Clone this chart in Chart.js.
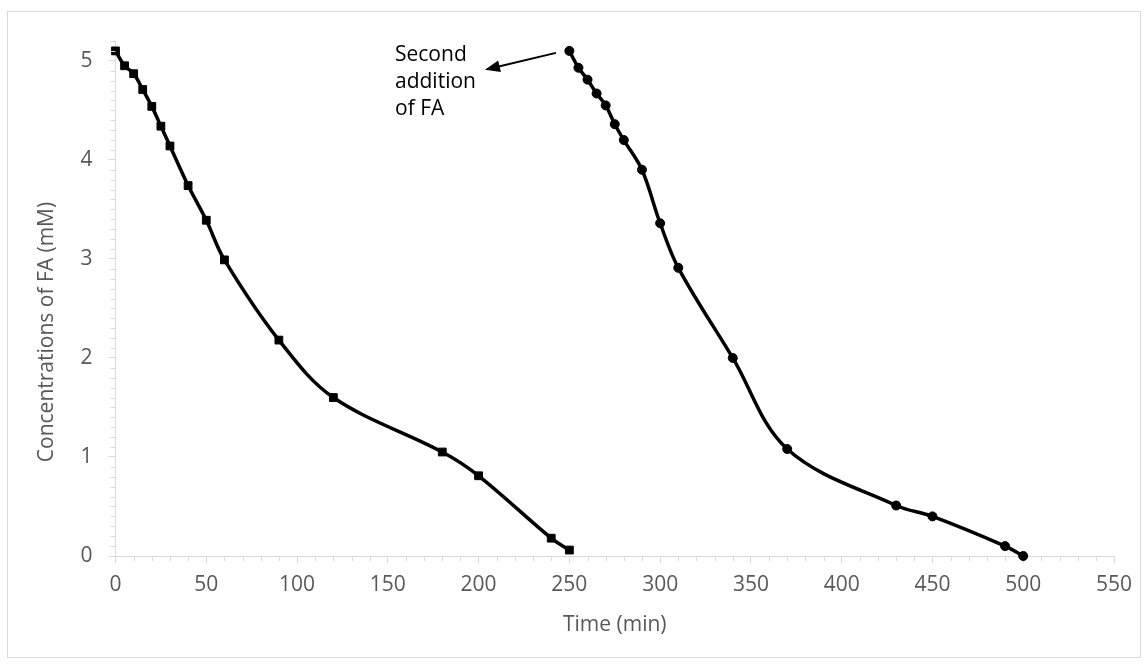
<!DOCTYPE html>
<html>
<head>
<meta charset="utf-8">
<script src="https://cdn.jsdelivr.net/npm/chart.js@4/dist/chart.umd.min.js"></script>
<style>
  html, body { margin: 0; padding: 0; background: #fff; }
  #chart { display: block; }
</style>
</head>
<body>
<canvas id="chart" width="1148" height="669"></canvas>
<script>
  // first addition (squares)
  const time1 = [0, 5, 10, 15, 20, 25, 30, 40, 50, 60, 90, 120, 180, 200, 240, 250];
  const conc1 = [5.10, 4.95, 4.87, 4.71, 4.54, 4.34, 4.14, 3.74, 3.39, 2.99, 2.18, 1.60, 1.05, 0.81, 0.18, 0.06];

  // second addition (circles)
  const time2 = [250, 255, 260, 265, 270, 275, 280, 290, 300, 310, 340, 370, 430, 450, 490, 500];
  const conc2 = [5.10, 4.93, 4.81, 4.67, 4.55, 4.36, 4.20, 3.90, 3.36, 2.91, 2.00, 1.08, 0.51, 0.40, 0.10, 0.00];

  const xTicks = [0, 50, 100, 150, 200, 250, 300, 350, 400, 450, 500, 550];
  const yTicks = [0, 1, 2, 3, 4, 5];

  const xTitle = 'Time (min)';
  const yTitle = 'Concentrations of FA (mM)';
  const noteLines = ['Second', 'addition', 'of FA'];

  const FONT = '"Open Sans", "Noto Sans", sans-serif';
  const GREY = '#595959';
  const AXIS = '#d9d9d9';

  function toPoints(xs, ys) {
    return xs.map((x, i) => ({ x: x, y: ys[i] }));
  }

  // frame, minor ticks, y title and the arrow note
  const extras = {
    id: 'extras',
    beforeDraw(chart) {
      const ctx = chart.ctx;
      ctx.save();
      ctx.fillStyle = '#fff';
      ctx.fillRect(0, 0, chart.width, chart.height);
      ctx.strokeStyle = AXIS;
      ctx.lineWidth = 1;
      ctx.strokeRect(7.5, 11.5, 1133, 646);
      ctx.restore();
    },
    afterDraw(chart) {
      const ctx = chart.ctx;
      const xs = chart.scales.x;
      const ys = chart.scales.y;
      ctx.save();

      // minor ticks
      ctx.strokeStyle = AXIS;
      ctx.lineWidth = 1;
      ctx.beginPath();
      for (let v = 0; v <= 550; v += 10) {
        if (v % 50 === 0) continue;
        const px = Math.round(xs.getPixelForValue(v)) + 0.5;
        ctx.moveTo(px, ys.bottom);
        ctx.lineTo(px, ys.bottom + 5);
      }
      for (let i = 0; i <= 52; i++) {
        if (i % 10 === 0) continue;
        const py = Math.round(ys.getPixelForValue(i / 10)) + 0.5;
        ctx.moveTo(xs.left - 5, py);
        ctx.lineTo(xs.left, py);
      }
      ctx.stroke();

      // y axis title
      ctx.fillStyle = GREY;
      ctx.font = '21px ' + FONT;
      ctx.textAlign = 'center';
      ctx.textBaseline = 'middle';
      ctx.translate(47, 332);
      ctx.rotate(-Math.PI / 2);
      ctx.fillText(yTitle, 0, 0);
      ctx.setTransform(1, 0, 0, 1, 0, 0);

      // arrow pointing at the start of the second run
      const x0 = xs.getPixelForValue(242.6), y0 = ys.getPixelForValue(5.08);
      const x1 = xs.getPixelForValue(203.5), y1 = ys.getPixelForValue(4.91);
      const ang = Math.atan2(y1 - y0, x1 - x0);
      const headLen = 15, headW = 6;
      ctx.strokeStyle = '#000';
      ctx.fillStyle = '#000';
      ctx.lineWidth = 2;
      ctx.beginPath();
      ctx.moveTo(x0, y0);
      ctx.lineTo(x1 - headLen * 0.8 * Math.cos(ang), y1 - headLen * 0.8 * Math.sin(ang));
      ctx.stroke();
      ctx.beginPath();
      ctx.moveTo(x1, y1);
      ctx.lineTo(x1 - headLen * Math.cos(ang) + headW * Math.sin(ang), y1 - headLen * Math.sin(ang) - headW * Math.cos(ang));
      ctx.lineTo(x1 - headLen * Math.cos(ang) - headW * Math.sin(ang), y1 - headLen * Math.sin(ang) + headW * Math.cos(ang));
      ctx.closePath();
      ctx.fill();

      // note text
      ctx.font = '21px ' + FONT;
      ctx.textAlign = 'left';
      ctx.textBaseline = 'middle';
      noteLines.forEach((t, i) => {
        ctx.fillText(t, 395, 55 + i * 27);
      });
      ctx.restore();
    }
  };

  new Chart(document.getElementById('chart'), {
    type: 'scatter',
    data: {
      datasets: [
        {
          data: toPoints(time1, conc1),
          showLine: true,
          borderColor: '#000',
          backgroundColor: '#000',
          borderWidth: 3.5,
          tension: 0.35,
          pointStyle: 'rect',
          pointRadius: 5.5,
          pointBorderWidth: 1,
          clip: false
        },
        {
          data: toPoints(time2, conc2),
          showLine: true,
          borderColor: '#000',
          backgroundColor: '#000',
          borderWidth: 3.5,
          tension: 0.35,
          pointStyle: 'circle',
          pointRadius: 4.5,
          pointBorderWidth: 1,
          clip: false
        }
      ]
    },
    options: {
      responsive: false,
      animation: false,
      layout: { padding: { left: 0, right: 34, top: 41, bottom: 0 } },
      plugins: {
        legend: { display: false },
        tooltip: { enabled: false }
      },
      scales: {
        x: {
          type: 'linear',
          min: 0,
          max: 550,
          afterFit: s => { s.height = 113; },
          afterBuildTicks: s => { s.ticks = xTicks.map(v => ({ value: v })); },
          grid: { drawOnChartArea: false, color: AXIS, tickLength: 7 },
          border: { color: AXIS, width: 1 },
          ticks: { color: GREY, font: { family: FONT, size: 21 }, padding: 9, maxRotation: 0 },
          title: {
            display: true,
            text: xTitle,
            color: GREY,
            font: { family: FONT, size: 21 },
            padding: { top: 0, bottom: 31 }
          }
        },
        y: {
          type: 'linear',
          min: 0,
          max: 5.2,
          afterFit: s => { s.width = 115.5; },
          afterBuildTicks: s => { s.ticks = yTicks.map(v => ({ value: v })); },
          grid: { drawOnChartArea: false, color: AXIS, tickLength: 7 },
          border: { color: AXIS, width: 1 },
          ticks: { color: GREY, font: { family: FONT, size: 21 }, padding: 16 }
        }
      }
    },
    plugins: [extras]
  });
</script>
</body>
</html>
